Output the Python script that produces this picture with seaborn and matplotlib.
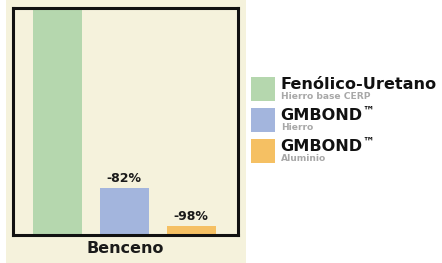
import matplotlib.pyplot as plt
import seaborn as sns
from matplotlib.patches import Rectangle

# data
series = ["Fenólico-Uretano", "GMBOND Hierro", "GMBOND Aluminio"]
values = [100, 18, 3.5]
bar_labels = ["", "-82%", "-98%"]
category = "Benceno"
legend_titles = ["Fenólico-Uretano", "GMBOND", "GMBOND"]
legend_marks = ["", "™", "™"]
legend_subs = ["Hierro base CERP", "Hierro", "Aluminio"]
colors = ["#b5d7ae", "#a3b5dd", "#f5c063"]

W, H = 442, 263
BEIGE = "#f5f2dc"

sns.set_style("white")
plt.rcParams["font.family"] = ["DejaVu Sans"]

fig = plt.figure(figsize=(W / 100, H / 100), dpi=100, facecolor="white")
# beige panel behind the chart
fig.add_artist(Rectangle((6 / W, 0), 240 / W, 1, transform=fig.transFigure,
                         facecolor=BEIGE, edgecolor="none", zorder=0))

ax = fig.add_axes([13 / W, (H - 235) / H, 225 / W, 227 / H])
sns.barplot(x=series, y=values, hue=series, palette=colors, width=0.73,
            legend=False, ax=ax, saturation=1, linewidth=0, edgecolor="none")
ax.set_facecolor(BEIGE)
ax.set_xlim(-0.66, 2.70)
ax.set_ylim(0, 87)
for s in ax.spines.values():
    s.set_visible(True)
    s.set_color("#111111")
    s.set_linewidth(2.2)
ax.set_xticks([])
ax.set_yticks([])
ax.set_xlabel(category, fontsize=11.5, fontweight="bold", color="#1a1a1a", labelpad=4)
ax.set_ylabel("")

for i, (v, lab) in enumerate(zip(values, bar_labels)):
    if lab:
        ax.annotate(lab, (i, v), xytext=(0, 2), textcoords="offset points",
                    ha="center", va="bottom", fontsize=9, fontweight="bold",
                    color="#1a1a1a")

# legend
top_y = [77, 108, 139]
renderer = fig.canvas.get_renderer()
for col, title, mark, sub, y in zip(colors, legend_titles, legend_marks, legend_subs, top_y):
    fig.add_artist(Rectangle((251 / W, 1 - (y + 24) / H), 24 / W, 24 / H,
                             transform=fig.transFigure, facecolor=col,
                             edgecolor="none"))
    t = fig.text(280 / W, 1 - (y + 12) / H, title, fontsize=11.6, fontweight="bold",
                 color="#111111", va="baseline", ha="left")
    if mark:
        bb = t.get_window_extent(renderer)
        fig.text(bb.x1 / W + 0.5 / W, 1 - (y + 7) / H, mark, fontsize=8.5,
                 fontweight="bold", color="#111111", va="baseline", ha="left")
    fig.text(281 / W, 1 - (y + 22) / H, sub, fontsize=6.6, fontweight="bold",
             color="#a8a8a8", va="baseline", ha="left")

fig.savefig("out.png", dpi=100, facecolor="white")
